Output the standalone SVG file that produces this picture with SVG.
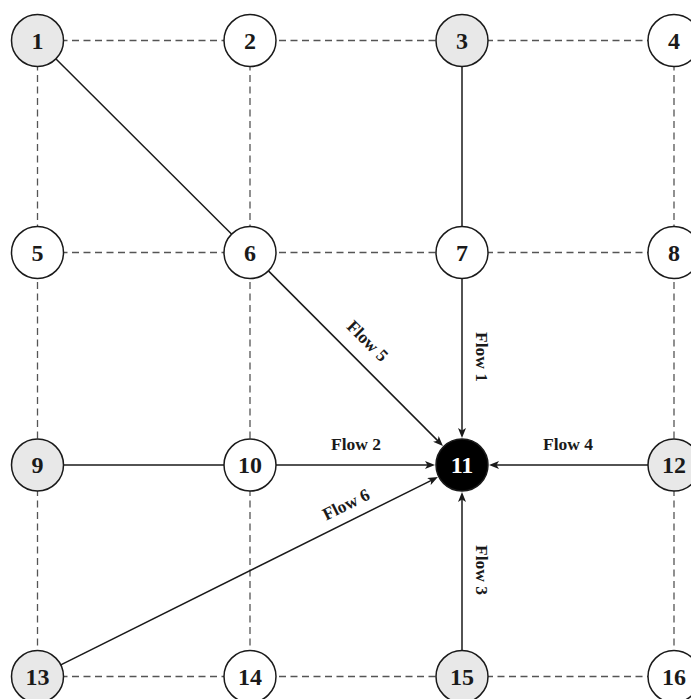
<svg xmlns="http://www.w3.org/2000/svg" width="691" height="699" viewBox="0 0 691 699">
<style>
.bg{fill:#ffffff}
.dash{stroke:#555555;stroke-width:1.3;stroke-dasharray:7,4.5;fill:none}
.solid{stroke:#1a1a1a;stroke-width:1.5;fill:none}
.arrow{stroke:#1a1a1a;stroke-width:1.5;fill:none;marker-end:url(#ah)}
.node{stroke:#1a1a1a;stroke-width:1.5;fill:#ffffff}
.grey{fill:#e8e8e8}
.sink{fill:#000000}
.num{font-family:"Liberation Serif","DejaVu Serif",serif;font-weight:bold;font-size:24px;text-anchor:middle;fill:#1a1a1a}
.sinknum{fill:#ffffff}
.lbl{font-family:"Liberation Serif","DejaVu Serif",serif;font-weight:bold;font-size:17.5px;text-anchor:middle;fill:#1a1a1a}
</style>
<defs>
<marker id="ah" viewBox="0 0 10 8" refX="5" refY="4" markerWidth="10" markerHeight="8" markerUnits="userSpaceOnUse" orient="auto">
<path d="M0,0 L10,4 L0,8 L2.5,4 Z" fill="#1a1a1a"/>
</marker>
</defs>
<rect class="bg" x="0" y="0" width="691" height="699"/>
<g id="connectors">
<line class="dash" x1="37.5" y1="40.5" x2="674" y2="40.5"/>
<line class="dash" x1="37.5" y1="252.5" x2="674" y2="252.5"/>
<line class="dash" x1="37.5" y1="676.5" x2="674" y2="676.5"/>
<line class="dash" x1="37.5" y1="40.5" x2="37.5" y2="676.5"/>
<line class="dash" x1="250" y1="40.5" x2="250" y2="676.5"/>
<line class="dash" x1="674" y1="40.5" x2="674" y2="676.5"/>
<line class="solid" x1="37.5" y1="40.5" x2="250" y2="252.5"/>
<line class="solid" x1="462" y1="40.5" x2="462" y2="252.5"/>
<line class="solid" x1="37.5" y1="465" x2="250" y2="465"/>
<line class="arrow" x1="462" y1="278.5" x2="462" y2="433"/>
<line class="arrow" x1="276" y1="465" x2="430" y2="465"/>
<line class="arrow" x1="648" y1="465" x2="494" y2="465"/>
<line class="arrow" x1="462" y1="650.5" x2="462" y2="497"/>
<line class="arrow" x1="268.4" y1="270.9" x2="439.4" y2="442.4"/>
<line class="arrow" x1="60.8" y1="664.9" x2="433.4" y2="479.3"/>
<text class="lbl" transform="translate(481.5,357) rotate(90)" x="0" y="5.8">Flow 1</text>
<text class="lbl" x="356" y="450">Flow 2</text>
<text class="lbl" transform="translate(481.5,570) rotate(90)" x="0" y="5.8">Flow 3</text>
<text class="lbl" x="568" y="450">Flow 4</text>
<text class="lbl" transform="translate(367.5,341) rotate(45)" x="0" y="5.8">Flow 5</text>
<text class="lbl" transform="translate(346,504.5) rotate(-26.4)" x="0" y="5.8">Flow 6</text>
</g>
<g id="n1"><circle class="node grey" cx="37.5" cy="40.5" r="26"/><text class="num" x="37.5" y="48.6">1</text></g>
<g id="n2"><circle class="node" cx="250" cy="40.5" r="26"/><text class="num" x="250" y="48.6">2</text></g>
<g id="n3"><circle class="node grey" cx="462" cy="40.5" r="26"/><text class="num" x="462" y="48.6">3</text></g>
<g id="n4"><circle class="node" cx="674" cy="40.5" r="26"/><text class="num" x="674" y="48.6">4</text></g>
<g id="n5"><circle class="node" cx="37.5" cy="252.5" r="26"/><text class="num" x="37.5" y="260.6">5</text></g>
<g id="n6"><circle class="node" cx="250" cy="252.5" r="26"/><text class="num" x="250" y="260.6">6</text></g>
<g id="n7"><circle class="node" cx="462" cy="252.5" r="26"/><text class="num" x="462" y="260.6">7</text></g>
<g id="n8"><circle class="node" cx="674" cy="252.5" r="26"/><text class="num" x="674" y="260.6">8</text></g>
<g id="n9"><circle class="node grey" cx="37.5" cy="465" r="26"/><text class="num" x="37.5" y="473.1">9</text></g>
<g id="n10"><circle class="node" cx="250" cy="465" r="26"/><text class="num" x="250" y="473.1">10</text></g>
<g id="n11"><circle class="node sink" cx="462" cy="465" r="26"/><text class="num sinknum" x="462" y="473.1">11</text></g>
<g id="n12"><circle class="node grey" cx="674" cy="465" r="26"/><text class="num" x="674" y="473.1">12</text></g>
<g id="n13"><circle class="node grey" cx="37.5" cy="676.5" r="26"/><text class="num" x="37.5" y="684.6">13</text></g>
<g id="n14"><circle class="node" cx="250" cy="676.5" r="26"/><text class="num" x="250" y="684.6">14</text></g>
<g id="n15"><circle class="node grey" cx="462" cy="676.5" r="26"/><text class="num" x="462" y="684.6">15</text></g>
<g id="n16"><circle class="node" cx="674" cy="676.5" r="26"/><text class="num" x="674" y="684.6">16</text></g>
</svg>
